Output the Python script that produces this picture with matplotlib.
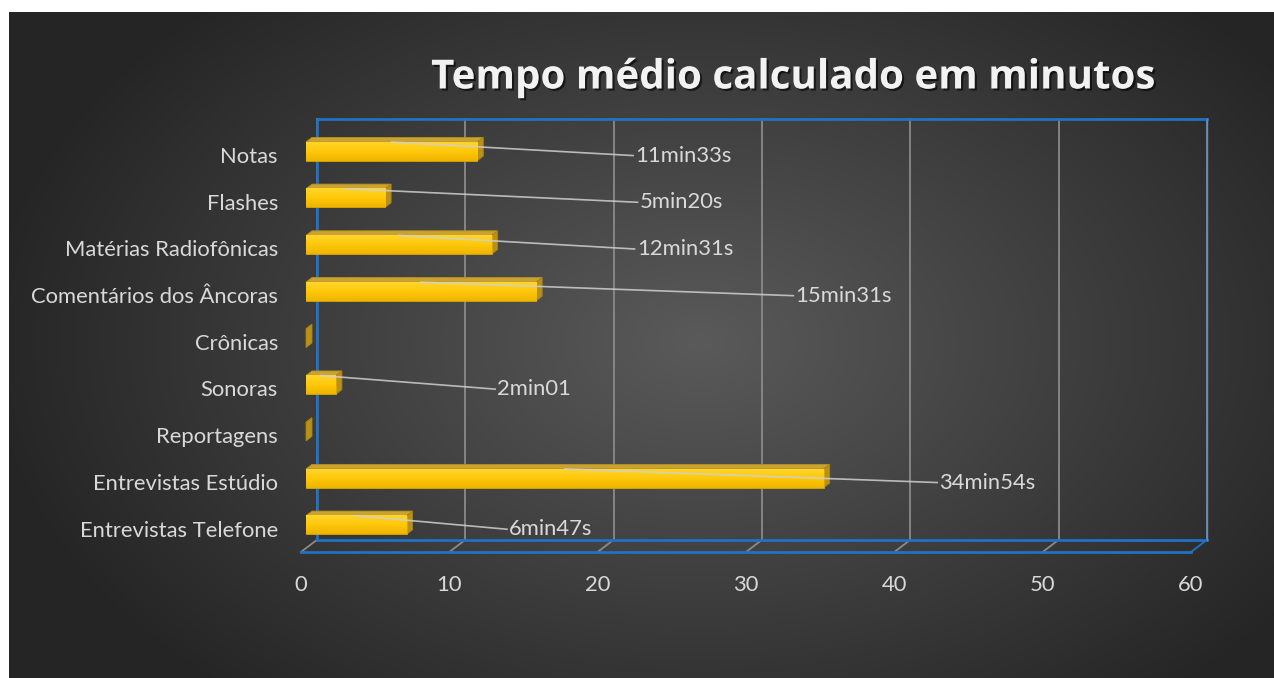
import re
import numpy as np
import matplotlib
matplotlib.use("Agg")
import matplotlib.pyplot as plt
import matplotlib.patheffects as pe
from matplotlib.patches import Polygon
from matplotlib.colors import LinearSegmentedColormap
from matplotlib.transforms import ScaledTranslation

# categorias de baixo para cima
categorias = [
    "Entrevistas Telefone",
    "Entrevistas Estúdio",
    "Reportagens",
    "Sonoras",
    "Crônicas",
    "Comentários dos Âncoras",
    "Matérias Radiofônicas",
    "Flashes",
    "Notas",
]
tempos = ["6min47s", "34min54s", "", "2min01", "", "15min31s", "12min31s", "5min20s", "11min33s"]
ticks_x = [0, 10, 20, 30, 40, 50, 60]

# posicao horizontal dos rotulos (em minutos, plano da frente)
rotulo_x = [13.7, 42.7, None, 12.9, None, 33.0, 22.3, 22.5, 22.2]


def em_minutos(txt):
    if not txt:
        return 0.0
    m = re.match(r"(\d+)min(\d+)", txt)
    return int(m.group(1)) + int(m.group(2)) / 60


valores = [em_minutos(t) for t in tempos]

W, H = 1274, 678
FS = 15.8
fig = plt.figure(figsize=(W / 100, H / 100), dpi=100)
fig.patch.set_facecolor("white")

# fundo com gradiente radial
bg = fig.add_axes([9 / W, 0, (W - 9) / W, (H - 12) / H])
yy, xx = np.mgrid[0:H - 12, 0:W - 9]
r = np.sqrt(((xx - 690) / 720.0) ** 2 + ((yy - 330) / 470.0) ** 2)
r = np.clip(r, 0, 1)
c0, c1 = np.array([0x5a, 0x5a, 0x5a]) / 255, np.array([0x25, 0x25, 0x25]) / 255
img = c0[None, None, :] * (1 - r[..., None]) + c1[None, None, :] * r[..., None]
bg.imshow(img, aspect="auto", interpolation="bilinear")
bg.axis("off")

ax = fig.add_axes([306 / W, (H - 548.4) / H, 890 / W, 420.4 / H])
ax.set_facecolor("none")
ax.set_xlim(0, 60)
ax.set_ylim(-0.5, 8.5)
ax.set_autoscale_on(False)
for s in ax.spines.values():
    s.set_visible(False)


def desloca(x, y, dx, dy):
    # desloca um ponto de dados em pixels de tela (dy para baixo)
    px, py = ax.transData.transform((x, y))
    return ax.transData.inverted().transform((px + dx, py - dy))


def linha(pts, **kw):
    ax.plot([q[0] for q in pts], [q[1] for q in pts], clip_on=False, **kw)


FUNDO = (11, -8.6)
FRENTE = (-5, 3.6)
PROF = (6, -4.6)
AZUL = "#1f72c4"
CINZA = "#8a8a8a"

# linhas de grade na parede do fundo e no piso
for t in ticks_x:
    b0 = desloca(t, -0.5, *FUNDO)
    b1 = desloca(t, 8.5, *FUNDO)
    f0 = desloca(t, -0.5, *FRENTE)
    linha([b0, b1], color=CINZA, lw=1.3, zorder=1)
    linha([b0, f0], color=AZUL if t == 60 else CINZA, lw=1.3, zorder=1)

# contorno azul da parede e do piso
linha([desloca(x, y, *FUNDO) for x, y in [(0, -0.5), (0, 8.5), (60, 8.5)]], color=AZUL, lw=2, zorder=1.5)
linha([desloca(x, -0.5, *FUNDO) for x in (0, 60)], color=AZUL, lw=2, zorder=1.5)
linha([desloca(x, -0.5, *FRENTE) for x in (0, 60)], color=AZUL, lw=2, zorder=1.5)
linha([desloca(60, y, *FUNDO) for y in (-0.5, 8.5)], color="#5d8fc0", lw=1, zorder=1.6)

# barras 3D
cmap = LinearSegmentedColormap.from_list("ouro", ["#eeb400", "#ffc80a", "#ffd52c"])
grad = np.linspace(0, 1, 64).reshape(-1, 1)
h = 0.2
for i, v in enumerate(valores):
    topo = [(0, i + h), (v, i + h), tuple(desloca(v, i + h, *PROF)), tuple(desloca(0, i + h, *PROF))]
    lado = [(v, i - h), (v, i + h), tuple(desloca(v, i + h, *PROF)), tuple(desloca(v, i - h, *PROF))]
    ax.add_patch(Polygon(topo, closed=True, facecolor="#c9a232", edgecolor="#b8921c", lw=0.6,
                         zorder=3, clip_on=False))
    ax.add_patch(Polygon(lado, closed=True, facecolor="#b8901a", edgecolor="#a8830f", lw=0.6,
                         zorder=3, clip_on=False))
    if v > 0:
        ax.barh(i, v, height=2 * h, left=0, color="#f5c000", edgecolor="#d9a600", lw=0.6, zorder=3)
        ax.imshow(grad, extent=(0, v, i - h, i + h), aspect="auto", cmap=cmap,
                  origin="lower", zorder=3.1, interpolation="bilinear")

# rotulos de dados com linhas de chamada
for i, (v, txt, lx) in enumerate(zip(valores, tempos, rotulo_x)):
    if not txt:
        continue
    ax.plot([v / 2, lx - 0.15], [i + h, i - 0.09], color="#d0d0d0", lw=1.2, alpha=0.85, zorder=4)
    ax.text(lx, i - 0.09, txt, ha="left", va="center", color="#d9d9d9",
            fontsize=FS, family="Lato", zorder=5)

# eixo de categorias
ax.set_yticks(range(len(categorias)))
ax.set_yticklabels(categorias, fontsize=FS, color="#d9d9d9", family="Lato")
ax.tick_params(axis="y", length=0, pad=28 * 0.72)
desce = ScaledTranslation(0, -3.5 / 100, fig.dpi_scale_trans)
for lbl in ax.get_yticklabels():
    lbl.set_transform(lbl.get_transform() + desce)

# eixo de valores (no piso da frente)
ax.set_xticks([])
for t in ticks_x:
    ax.annotate(str(t), xy=(t, -0.5), xytext=(-5 * 0.72, -(3.6 + 33) * 0.72),
                textcoords="offset points", ha="center", va="center",
                color="#d9d9d9", fontsize=FS, family="Lato", annotation_clip=False)

fig.text(792 / W, 1 - 78 / H, "Tempo médio calculado em minutos", ha="center", va="center",
         color="#f2f2f2", fontsize=29, fontweight="bold", family="Open Sans",
         path_effects=[pe.withSimplePatchShadow(offset=(1.5, -1.5), shadow_rgbFace="black", alpha=0.6)])

fig.savefig("out.png", dpi=100, facecolor=fig.get_facecolor())
